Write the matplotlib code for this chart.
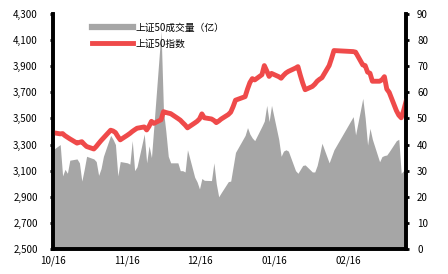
import numpy as np
import pandas as pd
import matplotlib
matplotlib.use("Agg")
import matplotlib.pyplot as plt
import matplotlib.dates as mdates
from matplotlib.lines import Line2D
from matplotlib.ticker import FuncFormatter

plt.rcParams['font.family'] = ['Noto Sans CJK SC', 'DejaVu Sans']

# trading days, 2020-10-16 .. 2021-03-12 (New Year and Spring Festival closed)
holidays = ["2021-01-01", "2021-02-11", "2021-02-12", "2021-02-15",
            "2021-02-16", "2021-02-17"]
days = pd.bdate_range("2020-10-16", "2021-03-12")
days = days[~days.isin(pd.to_datetime(holidays))]

# 上证50指数 (left axis)
index_oct = [3391, 3382, 3384, 3368, 3356, 3344, 3311, 3317, 3322, 3302, 3285]
index_nov = [3266, 3285, 3308, 3330, 3350, 3410, 3404, 3392, 3362, 3336,
             3372, 3385, 3400, 3413, 3425, 3435, 3412, 3440, 3478, 3462, 3490]
index_dec = [3552, 3546, 3541, 3537, 3500, 3487, 3468, 3450, 3428,
             3465, 3478, 3496, 3535, 3505, 3496, 3485, 3468, 3480, 3495,
             3530, 3548, 3590, 3640]
index_jan = [3667, 3725, 3775, 3805, 3795, 3835, 3905, 3865, 3822, 3845,
             3820, 3808, 3830, 3848, 3860, 3886, 3897, 3830, 3770, 3720]
index_feb = [3745, 3762, 3785, 3800, 3812, 3905, 3960, 4020, 4012, 4008,
             3910, 3905, 3855, 3846, 3785]
index_mar = [3785, 3796, 3820, 3725, 3700, 3560, 3525, 3505, 3560, 3630]

# 上证50成交量（亿） (right axis)
vol_oct = [38, 40, 28, 30.5, 29, 34, 34.5, 33, 26, 30.5, 35.5]
vol_nov = [34.5, 33.5, 28.2, 30.8, 35.5, 43.5, 42, 40, 28, 33.5,
           33, 32.5, 41.5, 30, 31.5, 44, 33, 39.5, 35, 47, 83.5]
vol_dec = [53, 45, 35.5, 33, 33, 30, 30, 29.5, 38,
           27.5, 25.7, 23, 27, 26.3, 26.2, 33, 25, 20, 21.5,
           25.8, 26, 31.5, 37]
vol_jan = [43.5, 46.5, 44, 42.5, 41.5, 47, 49, 55, 48.8, 55,
           42, 35.5, 37.5, 38, 37.5, 30, 29, 30.5, 32, 32.2]
vol_feb = [29.5, 29.5, 32, 36, 40.5, 33, 35.5, 38, 50.7, 43.7,
           57.7, 50.1, 39.8, 46.2, 42]
vol_mar = [33.4, 35.4, 35.8, 36, 37.3, 41.5, 42, 29, 30, 32.8]

index_vals = index_oct + index_nov + index_dec + index_jan + index_feb + index_mar
vol_vals = vol_oct + vol_nov + vol_dec + vol_jan + vol_feb + vol_mar

x_ticks = ["2020-10-16", "2020-11-16", "2020-12-16", "2021-01-16", "2021-02-16"]

GREY = "#a6a6a6"
RED = "#ef4a4a"

fig = plt.figure(figsize=(4.48, 2.74), dpi=100)
ax = fig.add_axes([53/448, 1-249/274, (406-53)/448, (249-14)/274])
ax2 = ax.twinx()

ax2.fill_between(days, vol_vals, 0, color=GREY, linewidth=0)
ax2.set_ylim(0, 90)
ax2.set_yticks(np.arange(0, 91, 10))

ax.plot(days, index_vals, color=RED, lw=3.5, solid_joinstyle='round')
ax.set_ylim(2500, 4300)
ax.set_yticks(np.arange(2500, 4301, 200))
ax.yaxis.set_major_formatter(FuncFormatter(lambda v, p: f"{int(v):,}"))

ax.set_zorder(ax2.get_zorder() + 1)
ax.patch.set_visible(False)

ax.set_xlim(days[0], days[-1])
ax.set_xticks(pd.to_datetime(x_ticks))
ax.xaxis.set_major_formatter(mdates.DateFormatter("%m/%d"))

for a in (ax, ax2):
    a.spines['top'].set_visible(False)
    for s in ('left', 'right', 'bottom'):
        a.spines[s].set_linewidth(2.6)
        a.spines[s].set_color('black')
ax.tick_params(axis='y', length=2, width=2, labelsize=7, pad=9)
ax2.tick_params(axis='y', length=2, width=2, labelsize=7, pad=6)
ax.tick_params(axis='x', length=0, labelsize=7, pad=5)

handles = [Line2D([], [], color=GREY, lw=4.5),
           Line2D([], [], color=RED, lw=3.5)]
ax.legend(handles, ["上证50成交量（亿）", "上证50指数"], loc='upper left',
          bbox_to_anchor=(0.085, 1.0), frameon=False, fontsize=7,
          handlelength=4.2, handletextpad=0.3, labelspacing=0.6)

fig.savefig("out.png", dpi=100)
